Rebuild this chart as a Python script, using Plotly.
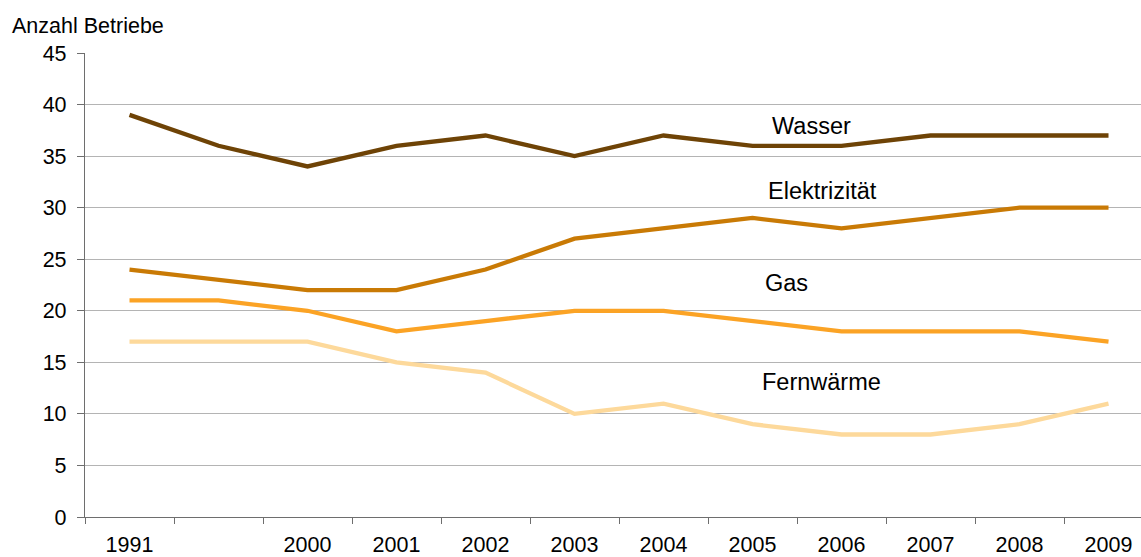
import plotly.graph_objects as go

categories = ["1991", "", "2000", "2001", "2002", "2003", "2004", "2005", "2006", "2007", "2008", "2009"]
wasser = [39, 36, 34, 36, 37, 35, 37, 36, 36, 37, 37, 37]
elektrizitaet = [24, 23, 22, 22, 24, 27, 28, 29, 28, 29, 30, 30]
gas = [21, 21, 20, 18, 19, 20, 20, 19, 18, 18, 18, 17]
fernwaerme = [17, 17, 17, 15, 14, 10, 11, 9, 8, 8, 9, 11]
y_ticks = [0, 5, 10, 15, 20, 25, 30, 35, 40, 45]

series = [
    ("Wasser", wasser, "#6E4306", 7.66, 37.9),
    ("Elektrizität", elektrizitaet, "#C97A05", 7.79, 31.6),
    ("Gas", gas, "#FBA325", 7.38, 22.7),
    ("Fernwärme", fernwaerme, "#FDD99B", 7.78, 13.06),
]

idx = list(range(len(categories)))
FONT = "Liberation Sans, Arial, sans-serif"

fig = go.Figure()
annotations = []
for name, vals, color, lx, ly in series:
    fig.add_trace(go.Scatter(x=idx, y=vals, mode="lines", name=name,
                             line=dict(color=color, width=4.3), showlegend=False,
                             hoverinfo="skip"))
    annotations.append(dict(x=lx, y=ly, xref="x", yref="y", text=name, showarrow=False,
                            font=dict(family=FONT, size=23.5, color="#000000"),
                            xanchor="center", yanchor="middle"))

annotations.append(dict(x=(10 - 85) / 1056, y=(517.5 - 25) / 465, xref="paper", yref="paper",
                        text="Anzahl Betriebe", showarrow=False, xanchor="left", yanchor="middle",
                        font=dict(family=FONT, size=21.5, color="#000000")))

fig.update_layout(
    width=1141, height=557,
    margin=dict(l=85, r=0, t=52.5, b=39.5, autoexpand=False),
    paper_bgcolor="white", plot_bgcolor="white",
    font=dict(family=FONT, size=21.5, color="#000000"),
    annotations=annotations,
    xaxis=dict(
        range=[-0.5, 11.365], tickmode="array", tickvals=idx, ticktext=categories,
        ticks="", showgrid=False, zeroline=False, showline=True, linecolor="#6E6E6E",
        linewidth=1.3, ticklabelstandoff=8, tickfont=dict(size=21.5),
        minor=dict(tickmode="array", tickvals=[i - 0.5 for i in idx], ticks="outside",
                   ticklen=6, tickcolor="#6E6E6E", tickwidth=1.3, showgrid=False),
        fixedrange=True,
    ),
    yaxis=dict(
        range=[0, 45], tickmode="array", tickvals=y_ticks, ticks="outside", ticklen=7,
        tickcolor="#6E6E6E", tickwidth=1.3, showgrid=True, gridcolor="#B4B4B4", gridwidth=1.2,
        zeroline=False, showline=True, linecolor="#6E6E6E", linewidth=1.3,
        ticklabelstandoff=6, tickfont=dict(size=21.5), fixedrange=True,
    ),
)

fig.write_html("out.html", config={"displayModeBar": False},
               post_script="document.body.style.margin='0';document.body.style.overflow='hidden';")
